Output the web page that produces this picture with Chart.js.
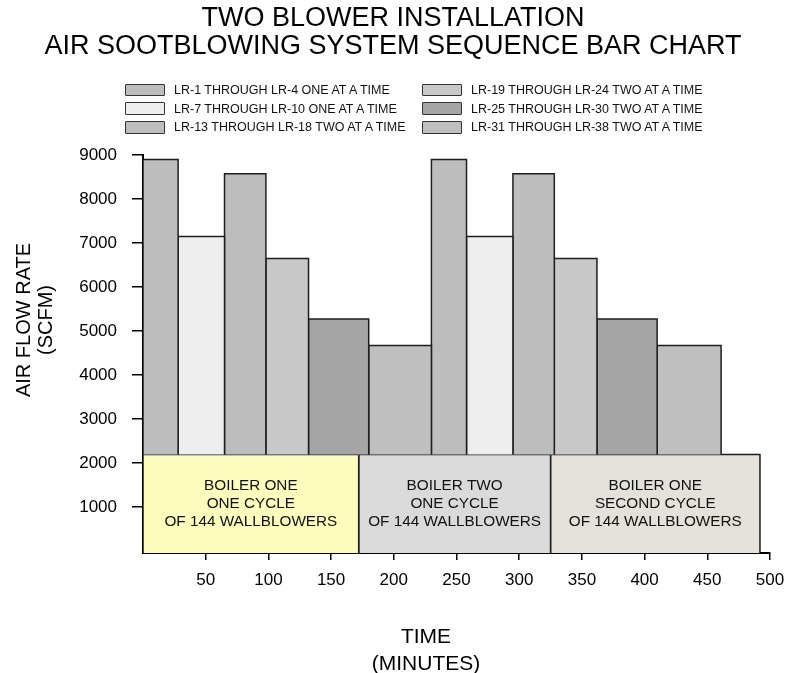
<!DOCTYPE html>
<html>
<head>
<meta charset="utf-8">
<script src="https://cdn.jsdelivr.net/npm/chart.js@4.4.0/dist/chart.umd.min.js"></script>
<style>
  body { margin: 0; background: #fff; }
  #wrap { position: relative; width: 786px; height: 673px; }
  #legend { position: absolute; left: 0; top: 0; font-family: "Liberation Sans", Arial, sans-serif; font-size: 12.5px; color: #111; }
  .item { position: absolute; display: flex; align-items: center; height: 14px; white-space: nowrap; }
  .swatch { box-sizing: border-box; width: 40px; height: 12.5px; border: 1.5px solid #333; border-radius: 1px; margin-right: 9px; }
</style>
</head>
<body>
<div id="wrap">
  <canvas id="chart" width="786" height="673"></canvas>
  <div id="legend"></div>
</div>
<script>
const titleLines = ["TWO BLOWER INSTALLATION", "AIR SOOTBLOWING SYSTEM SEQUENCE BAR CHART"];
const yTitle = ["AIR FLOW RATE", "(SCFM)"];
const xTitle = ["TIME", "(MINUTES)"];

const xTicks = [50, 100, 150, 200, 250, 300, 350, 400, 450, 500];
const yTicks = [1000, 2000, 3000, 4000, 5000, 6000, 7000, 8000, 9000];

const legendLabels = [
  "LR-1 THROUGH LR-4 ONE AT A TIME",
  "LR-7 THROUGH LR-10 ONE AT A TIME",
  "LR-13 THROUGH LR-18 TWO AT A TIME",
  "LR-19 THROUGH LR-24 TWO AT A TIME",
  "LR-25 THROUGH LR-30 TWO AT A TIME",
  "LR-31 THROUGH LR-38 TWO AT A TIME",
];

// bar edges in minutes, flow values in SCFM, legend group of each bar
const barEdges = [0, 28, 65, 98, 132, 180, 230, 258, 295, 328, 362, 410, 461];
const barValues = [8900, 7150, 8575, 6650, 5275, 4675, 8900, 7150, 8575, 6650, 5275, 4675];
const barGroups = [0, 1, 2, 3, 4, 5, 0, 1, 2, 3, 4, 5];
const barBase = 2200;

const boxEdges = [0, 172, 325, 492];
const boxLabels = [
  ["BOILER ONE", "ONE CYCLE", "OF 144 WALLBLOWERS"],
  ["BOILER TWO", "ONE CYCLE", "OF 144 WALLBLOWERS"],
  ["BOILER ONE", "SECOND CYCLE", "OF 144 WALLBLOWERS"],
];

// styles
const groupColors = ["#bdbdbd", "#eeeeee", "#bdbdbd", "#c8c8c8", "#a5a5a5", "#bfbfbf"];
const boxColors = ["#fcfcbc", "#dadada", "#e3e1da"];
const FONT = "'Liberation Sans', Arial, sans-serif";
const yMin = -40;

function buildLegend() {
  const box = document.getElementById("legend");
  legendLabels.forEach((label, i) => {
    const item = document.createElement("div");
    item.className = "item";
    item.style.left = (i < 3 ? 125 : 422) + "px";
    item.style.top = (83 + (i % 3) * 18.7) + "px";
    const sw = document.createElement("span");
    sw.className = "swatch";
    sw.style.background = groupColors[i];
    const txt = document.createElement("span");
    txt.textContent = label;
    item.append(sw, txt);
    box.appendChild(item);
  });
}

function rect(x0, x1, top, base) {
  return [{ x: x0, y: base }, { x: x0, y: top }, { x: x1, y: top }, { x: x1, y: base }];
}

const datasets = [];
barValues.forEach((v, i) => {
  datasets.push({
    data: rect(barEdges[i], barEdges[i + 1], v, barBase),
    backgroundColor: groupColors[barGroups[i]],
    fill: { value: barBase },
  });
});
boxLabels.forEach((lines, i) => {
  datasets.push({
    data: rect(boxEdges[i], boxEdges[i + 1], barBase, yMin),
    backgroundColor: boxColors[i],
    fill: { value: yMin },
  });
});

const boxText = {
  id: "boxText",
  afterDatasetsDraw(chart) {
    const { ctx, scales: { x, y } } = chart;
    ctx.save();
    ctx.font = "15.3px " + FONT;
    ctx.fillStyle = "#111";
    ctx.textAlign = "center";
    ctx.textBaseline = "middle";
    const cy = y.getPixelForValue((yMin + barBase) / 2);
    boxLabels.forEach((lines, i) => {
      const cx = x.getPixelForValue((boxEdges[i] + boxEdges[i + 1]) / 2);
      lines.forEach((t, j) => ctx.fillText(t, cx, cy + (j - (lines.length - 1) / 2) * 18));
    });
    ctx.restore();
  },
};

const axisTitles = {
  id: "axisTitles",
  afterDraw(chart) {
    const ctx = chart.ctx;
    ctx.save();
    ctx.fillStyle = "#000";
    ctx.textAlign = "center";
    ctx.textBaseline = "middle";
    ctx.font = "20px " + FONT;
    [24, 46].forEach((px, i) => {
      ctx.save();
      ctx.translate(px, 320);
      ctx.rotate(-Math.PI / 2);
      ctx.fillText(yTitle[i], 0, 0);
      ctx.restore();
    });
    ctx.font = "21px " + FONT;
    ctx.fillText(xTitle[0], 426, 637);
    ctx.fillText(xTitle[1], 426, 664);
    ctx.restore();
  },
};

buildLegend();

new Chart(document.getElementById("chart"), {
  type: "line",
  data: { datasets },
  options: {
    responsive: false,
    animation: false,
    elements: {
      line: { borderColor: "#1e1e1e", borderWidth: 1.5, tension: 0, borderJoinStyle: "miter" },
      point: { radius: 0, hoverRadius: 0 },
    },
    layout: { padding: { left: 0, right: 0, top: 0, bottom: 0 } },
    plugins: {
      legend: { display: false },
      tooltip: { enabled: false },
      title: {
        display: true,
        text: titleLines,
        color: "#000",
        font: { family: FONT, size: 27, weight: "normal", lineHeight: 1.037 },
        padding: { top: 5, bottom: 94 },
      },
    },
    scales: {
      x: {
        type: "linear",
        min: 0,
        max: 500,
        afterFit: (s) => { s.height = 120; s.paddingRight = 16; s.paddingLeft = 0; },
        afterBuildTicks: (s) => { s.ticks = xTicks.map((v) => ({ value: v })); },
        grid: { drawOnChartArea: false, tickLength: 7, color: "#000", lineWidth: 1.5 },
        border: { color: "#000", width: 2 },
        ticks: { color: "#000", font: { family: FONT, size: 17 }, padding: 10, maxRotation: 0, autoSkip: false, callback: (v) => String(v) },
      },
      y: {
        type: "linear",
        min: yMin,
        max: 9000,
        afterFit: (s) => { s.width = 143; },
        afterBuildTicks: (s) => { s.ticks = yTicks.map((v) => ({ value: v })); },
        grid: { drawOnChartArea: false, tickLength: 11, color: "#000", lineWidth: 1.5 },
        border: { color: "#000", width: 2 },
        ticks: { color: "#000", font: { family: FONT, size: 17 }, padding: 15, callback: (v) => String(v) },
      },
    },
  },
  plugins: [boxText, axisTitles],
});
</script>
</body>
</html>
